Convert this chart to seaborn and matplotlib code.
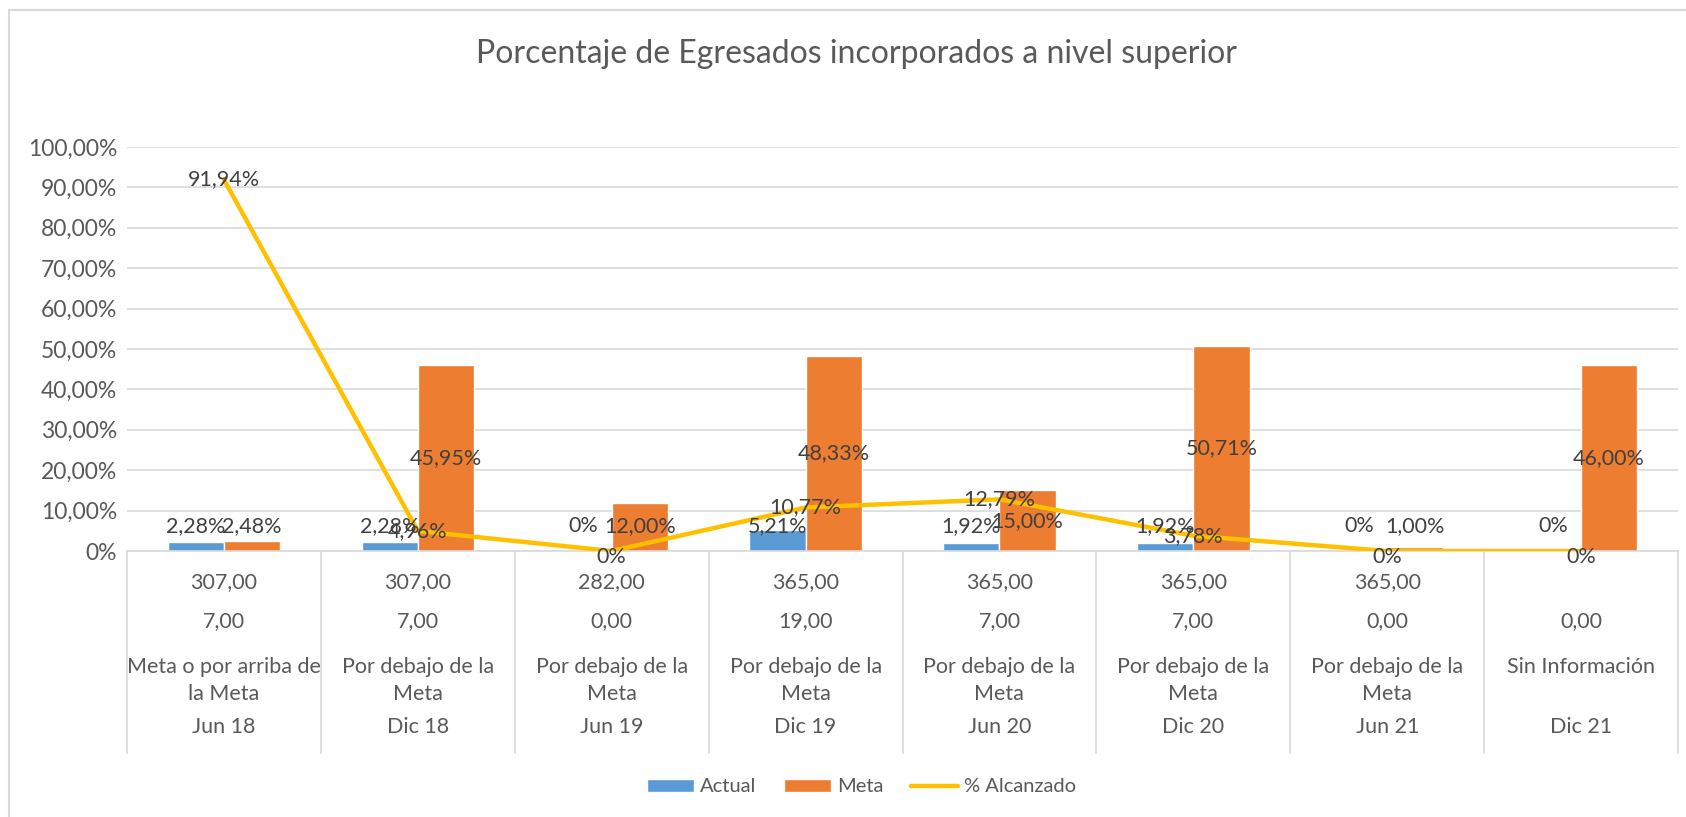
import numpy as np
import pandas as pd
import matplotlib
matplotlib.use("Agg")
import matplotlib.pyplot as plt
import matplotlib.transforms as mtransforms
from matplotlib.patches import Rectangle
import seaborn as sns

# --- Chart data ---
periods = ['Jun 18', 'Dic 18', 'Jun 19', 'Dic 19', 'Jun 20', 'Dic 20', 'Jun 21', 'Dic 21']
actual = [2.28, 2.28, 0.00, 5.21, 1.92, 1.92, 0.00, 0.00]
meta = [2.48, 45.95, 12.00, 48.33, 15.00, 50.71, 1.00, 46.00]
alcanzado = [91.94, 4.96, 0.00, 10.77, 12.79, 3.78, 0.00, 0.00]

# multi-level category labels (rows under the axis)
row_total = ['307,00', '307,00', '282,00', '365,00', '365,00', '365,00', '365,00', '']
row_egresados = ['7,00', '7,00', '0,00', '19,00', '7,00', '7,00', '0,00', '0,00']
row_estado = ['Meta o por arriba de\nla Meta', 'Por debajo de la\nMeta', 'Por debajo de la\nMeta',
              'Por debajo de la\nMeta', 'Por debajo de la\nMeta', 'Por debajo de la\nMeta',
              'Por debajo de la\nMeta', 'Sin Información']

COLOR_ACTUAL = '#5B9BD5'
COLOR_META = '#ED7D31'
COLOR_LINE = '#FFC000'
GRID = '#D9D9D9'
TXT = '#595959'
LBL = '#404040'
FS = 15.5


def pct(v):
    if v == 0:
        return '0%'
    return f'{v:.2f}'.replace('.', ',') + '%'


sns.set_style('white')
plt.rcParams['font.family'] = ['Lato', 'DejaVu Sans']

df = pd.DataFrame({
    'Periodo': periods * 2,
    'Serie': ['Actual'] * len(periods) + ['Meta'] * len(periods),
    'Valor': actual + meta,
})

fig = plt.figure(figsize=(16.86, 8.17), dpi=100)
ax = fig.add_axes([127 / 1686, 1 - 551 / 817, (1678 - 127) / 1686, (551 - 147) / 817])

sns.barplot(data=df, x='Periodo', y='Valor', hue='Serie', order=periods,
            palette={'Actual': COLOR_ACTUAL, 'Meta': COLOR_META},
            width=0.58, saturation=1, ax=ax, zorder=2)
sns.lineplot(x=np.arange(len(periods)), y=alcanzado, color=COLOR_LINE,
             linewidth=3.2, ax=ax, label='% Alcanzado', zorder=3)

ax.set_xlim(-0.5, len(periods) - 0.5)
ax.set_ylim(0, 100)
ax.set_yticks(range(0, 101, 10))
ax.set_yticklabels([pct(v) for v in range(0, 101, 10)], color=TXT, fontsize=16.5)
ax.tick_params(axis='y', length=0, pad=7)
ax.set_xticks([])
ax.set_xlabel('')
ax.set_ylabel('')
ax.grid(axis='y', color=GRID, linewidth=1.2, zorder=0)
ax.set_axisbelow(True)
for s in ['left', 'right', 'top']:
    ax.spines[s].set_visible(False)
ax.spines['bottom'].set_color(GRID)
ax.spines['bottom'].set_linewidth(1.2)

# bar data labels
for container in ax.containers:
    for bar in container:
        h = bar.get_height()
        x = bar.get_x() + bar.get_width() / 2
        ax.text(x, max(h / 2, 6.1), pct(h), ha='center', va='center',
                fontsize=FS, color=LBL, zorder=5)

# line data labels
for i, v in enumerate(alcanzado):
    y = v if v > 0 else -1.6
    ax.text(i, y, pct(v), ha='center', va='center', fontsize=FS,
            color=LBL, zorder=6, clip_on=False)

# category table under the axis
trans = mtransforms.blended_transform_factory(ax.transData, ax.transAxes)
for b in np.arange(-0.5, len(periods), 1.0):
    ax.plot([b, b], [0, -0.5], color=GRID, linewidth=1.2, transform=trans, clip_on=False)
for i in range(len(periods)):
    ax.text(i, -0.077, row_total[i], transform=trans, ha='center', va='center', fontsize=FS, color=TXT)
    ax.text(i, -0.173, row_egresados[i], transform=trans, ha='center', va='center', fontsize=FS, color=TXT)
    for j, line in enumerate(row_estado[i].split('\n')):
        ax.text(i, -0.287 - 0.067 * j, line, transform=trans, ha='center', va='center', fontsize=FS, color=TXT)
    ax.text(i, -0.436, periods[i], transform=trans, ha='center', va='center', fontsize=FS, color=TXT)

# legend
handles, labels = ax.get_legend_handles_labels()
if ax.get_legend() is not None:
    ax.get_legend().remove()
fig.legend(handles, labels, loc='center', bbox_to_anchor=(0.511, 1 - 787 / 817), ncol=3,
           frameon=False, fontsize=14.5, handlelength=2.3, handleheight=0.65,
           handletextpad=0.3, columnspacing=1.4, labelcolor=TXT)

fig.text(0.508, 1 - 54 / 817, 'Porcentaje de Egresados incorporados a nivel superior',
         ha='center', va='center', fontsize=23, color=TXT)

# chart border
fig.patches.append(Rectangle((9 / 1686, -0.05), 1.2, 1 - 10 / 817 + 0.05, transform=fig.transFigure,
                             fill=False, edgecolor=GRID, linewidth=1.5))

fig.savefig('out.png', dpi=100)
